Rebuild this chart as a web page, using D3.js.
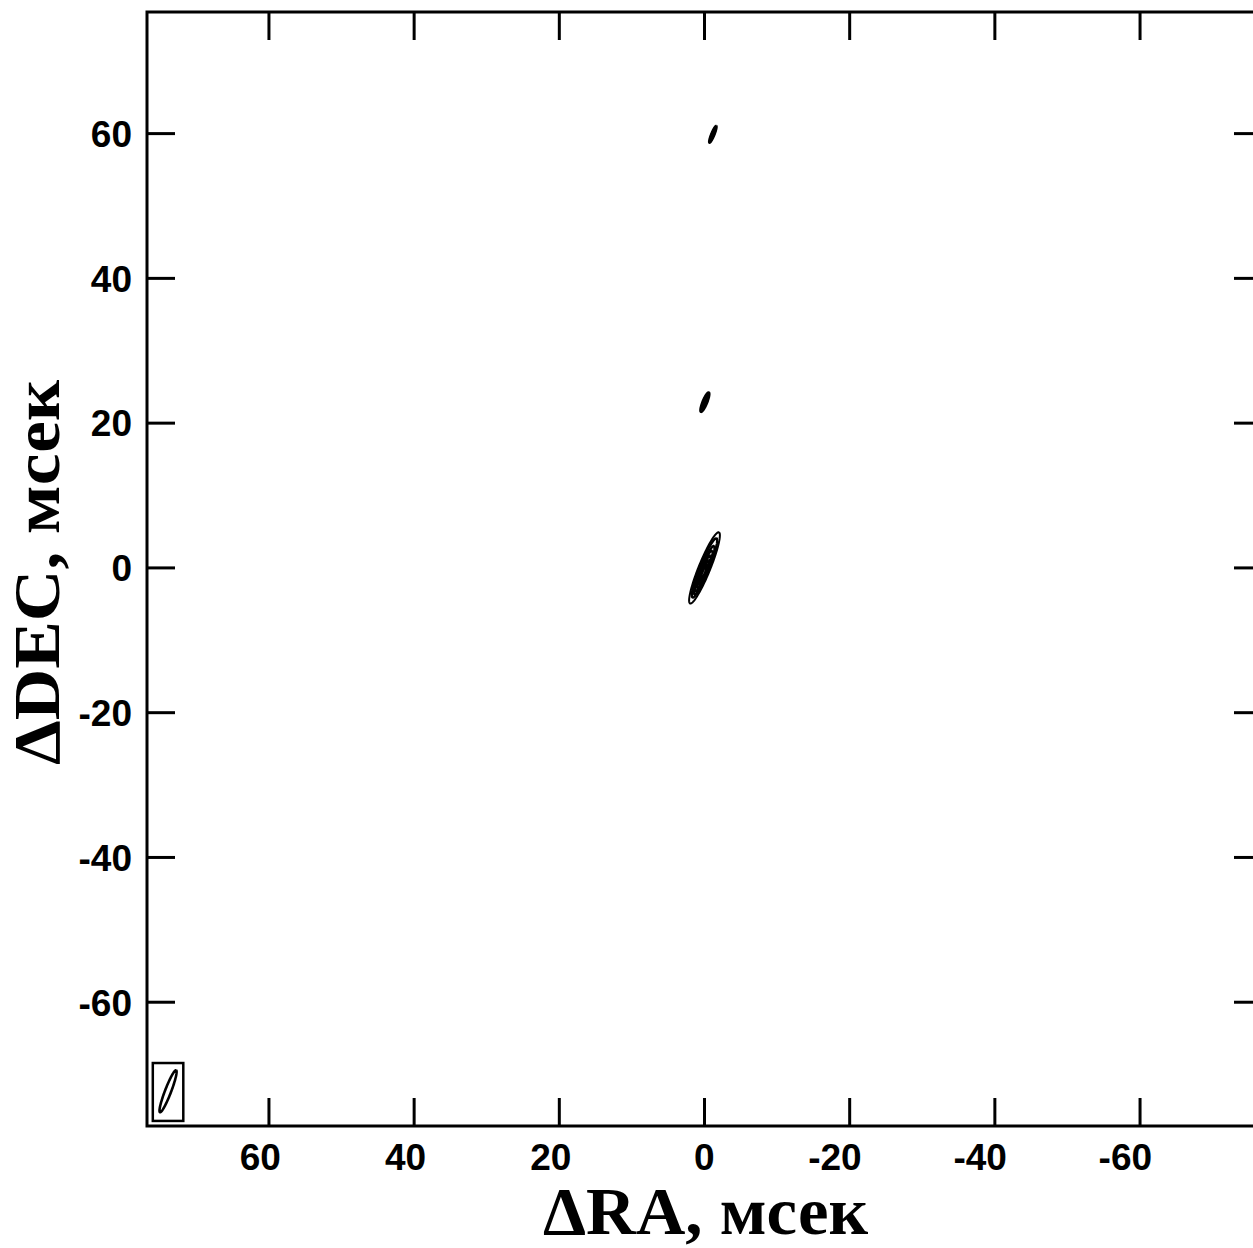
<!DOCTYPE html>
<html><head><meta charset="utf-8">
<script src="https://cdn.jsdelivr.net/npm/d3@7"></script>
<style>body{margin:0;background:#fff}svg{display:block}</style>
</head><body><div id="c"></div>
<script>
// axis ticks (mas)
const xTicks = [60, 40, 20, 0, -20, -40, -60];
const yTicks = [60, 40, 20, 0, -20, -40, -60];
const xDomain = [76.8, -76.8];
const yDomain = [-77.1, 76.8];
// contour ellipses: centre RA, DEC (mas), semi-axes (mas), PA (deg, east of north)
const comp_x     = [0.0, 0.0, 0.05, 0.1, 0.1, 0.1, 0.1, -0.05, -0.05, -0.05, -1.15, -1.15, -1.15];
const comp_y     = [0.0, 0.0, -0.3, -0.4, -0.5, -0.6, -0.6, 22.9, 22.9, 22.9, 59.9, 59.9, 59.9];
const comp_maj   = [5.3, 4.4, 3.6, 3.0, 2.4, 1.8, 1.2, 1.45, 1.1, 0.7, 1.25, 0.9, 0.5];
const comp_min   = [0.8, 0.62, 0.5, 0.42, 0.34, 0.26, 0.18, 0.32, 0.22, 0.12, 0.22, 0.14, 0.08];
const comp_pa    = [-22, -22, -22, -22, -22, -22, -22, -22, -22, -22, -22, -22, -22];
// restoring beam
const beam = {x: 73.9, y: -72.3, maj: 3.1, min: 0.42, pa: -21};
const beamBox = {x0: 76.0, x1: 71.8, y0: -68.4, y1: -76.4};

const W = 1253, H = 1248;
const L = 147, T = 12, R = 1262, B = 1126;
const svg = d3.select('#c').append('svg').attr('width', W).attr('height', H);
const x = d3.scaleLinear().domain(xDomain).range([L, R]);
const y = d3.scaleLinear().domain(yDomain).range([B, T]);

function ellipsePts(cx, cy, a, b, paDeg) {
  const pa = paDeg * Math.PI / 180, pts = [];
  for (let i = 0; i <= 120; i++) {
    const t = i / 120 * 2 * Math.PI;
    const u = a * Math.cos(t), v = b * Math.sin(t);
    const dRA = u * Math.sin(pa) + v * Math.cos(pa);
    const dDE = u * Math.cos(pa) - v * Math.sin(pa);
    pts.push([cx + dRA, cy + dDE]);
  }
  return pts;
}
const line = d3.line().x(d => x(d[0])).y(d => y(d[1]));

// contours
const g = svg.append('g');
comp_x.forEach((cx, i) => {
  g.append('path').attr('d', line(ellipsePts(cx, comp_y[i], comp_maj[i], comp_min[i], comp_pa[i])))
    .attr('fill', 'none').attr('stroke', '#000').attr('stroke-width', i === 0 ? 2 : 2.4);
});

// beam
svg.append('rect').attr('x', x(beamBox.x0)).attr('y', y(beamBox.y0))
  .attr('width', x(beamBox.x1) - x(beamBox.x0)).attr('height', y(beamBox.y1) - y(beamBox.y0))
  .attr('fill', 'none').attr('stroke', '#000').attr('stroke-width', 2.5);
svg.append('path').attr('d', line(ellipsePts(beam.x, beam.y, beam.maj, beam.min, beam.pa)))
  .attr('fill', 'none').attr('stroke', '#000').attr('stroke-width', 2.6);

// frame
svg.append('rect').attr('x', L).attr('y', T).attr('width', R - L).attr('height', B - T)
  .attr('fill', 'none').attr('stroke', '#000').attr('stroke-width', 3);

// ticks, inward on all sides
const tl = 28;
const ax = svg.append('g').attr('stroke', '#000').attr('stroke-width', 3);
xTicks.forEach(v => {
  ax.append('line').attr('x1', x(v)).attr('x2', x(v)).attr('y1', T).attr('y2', T + tl);
  ax.append('line').attr('x1', x(v)).attr('x2', x(v)).attr('y1', B).attr('y2', B - tl);
});
yTicks.forEach(v => {
  ax.append('line').attr('y1', y(v)).attr('y2', y(v)).attr('x1', L).attr('x2', L + tl);
  ax.append('line').attr('y1', y(v)).attr('y2', y(v)).attr('x1', R).attr('x2', R - tl);
});

// tick labels
const tf = "'Liberation Sans', Arial, sans-serif";
svg.append('g').selectAll('text').data(xTicks).join('text')
  .attr('x', d => x(d) + (d === 0 ? 10 : 12)).attr('y', 1170).attr('text-anchor', 'end')
  .attr('font-family', tf).attr('font-weight', 'bold').attr('font-size', 37)
  .text(d => d);
svg.append('g').selectAll('text').data(yTicks).join('text')
  .attr('x', 132).attr('y', d => y(d)).attr('dy', '0.36em').attr('text-anchor', 'end')
  .attr('font-family', tf).attr('font-weight', 'bold').attr('font-size', 37)
  .text(d => d);

// axis titles
const sf = "'Liberation Serif', 'Times New Roman', serif";
svg.append('text').attr('x', 543).attr('y', 1234)
  .attr('font-family', sf).attr('font-weight', 'bold').attr('font-size', 68)
  .attr('textLength', 325).attr('lengthAdjust', 'spacingAndGlyphs')
  .text('ΔRA, мсек');
svg.append('text').attr('transform', 'translate(59,765) rotate(-90)')
  .attr('font-family', sf).attr('font-weight', 'bold').attr('font-size', 66)
  .attr('textLength', 385).attr('lengthAdjust', 'spacingAndGlyphs')
  .text('ΔDEC, мсек');
</script></body></html>
